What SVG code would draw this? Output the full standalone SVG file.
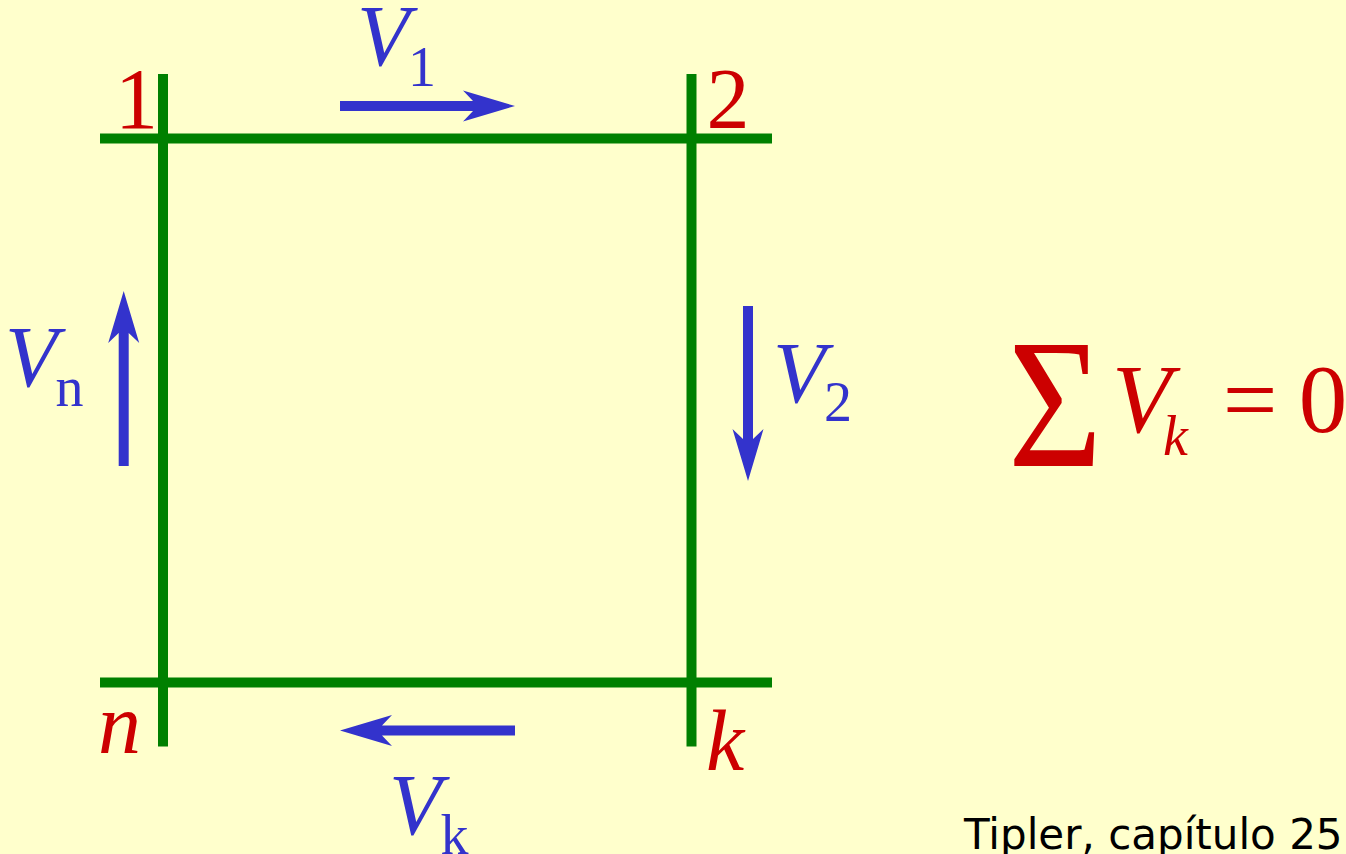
<svg xmlns="http://www.w3.org/2000/svg" width="1346" height="854" viewBox="0 0 1346 854">
<style>
.wire{stroke:#008000;stroke-width:10;fill:none}
.arr{fill:#3333CC}
.bl{fill:#3333CC;font-family:"Liberation Serif","Times New Roman",serif}
.rd{fill:#CC0000;font-family:"Liberation Serif","Times New Roman",serif}
.it{font-style:italic}
.big{font-size:86px}
.sub{font-size:56px}
.eq{font-size:97px}
.ref{font-family:"DejaVu Sans",Tahoma,sans-serif;font-size:42px;fill:#000}
</style>
<defs>
<path id="arrow" d="M0,-5 L133,-5 L123,-15.5 L175,0 L123,15.5 L133,5 L0,5 Z"/>
</defs>
<rect width="1346" height="854" fill="#FFFFCC"/>
<g id="loop">
<line class="wire" x1="100" y1="138.5" x2="772" y2="138.5"/>
<line class="wire" x1="100" y1="682.5" x2="772" y2="682.5"/>
<line class="wire" x1="163" y1="74" x2="163" y2="746.5"/>
<line class="wire" x1="691.5" y1="74" x2="691.5" y2="746.5"/>
</g>
<g id="connectors" class="arr">
<use href="#arrow" transform="translate(340,106)"/>
<use href="#arrow" transform="translate(748,306) rotate(90)"/>
<use href="#arrow" transform="translate(515,730.5) rotate(180)"/>
<use href="#arrow" transform="translate(123.7,466) rotate(-90)"/>
</g>
<g id="node-1"><text class="rd big" x="136.5" y="128" text-anchor="middle">1</text></g>
<g id="node-2"><text class="rd big" x="728" y="128" text-anchor="middle">2</text></g>
<g id="node-n"><text class="rd big it" x="98" y="753">n</text></g>
<g id="node-k"><text class="rd big it" x="706" y="770">k</text></g>
<g id="label-V1"><text class="bl big it" x="357" y="65">V</text><text class="bl sub" x="422" y="86" text-anchor="middle">1</text></g>
<g id="label-V2"><text class="bl big it" x="773" y="401.7">V</text><text class="bl sub" x="838" y="420.7" text-anchor="middle">2</text></g>
<g id="label-Vk"><text class="bl big it" x="389" y="834">V</text><text class="bl sub" x="454.5" y="854" text-anchor="middle">k</text></g>
<g id="label-Vn"><text class="bl big it" x="5" y="386">V</text><text class="bl sub" x="69.5" y="406" text-anchor="middle">n</text></g>
<g id="equation">
<text class="rd" x="1008" y="466" font-size="184" transform="translate(1008,0) scale(0.88,1) translate(-1008,0)">Σ</text>
<text class="rd eq it" x="1112" y="432">V</text>
<text class="rd sub it" x="1163" y="455">k</text>
<text class="rd eq" x="1250" y="432" text-anchor="middle">=</text>
<text class="rd eq" x="1323" y="432" text-anchor="middle">0</text>
</g>
<g id="reference"><text class="ref" x="964" y="849">Tipler, capítulo 25.</text></g>
</svg>
